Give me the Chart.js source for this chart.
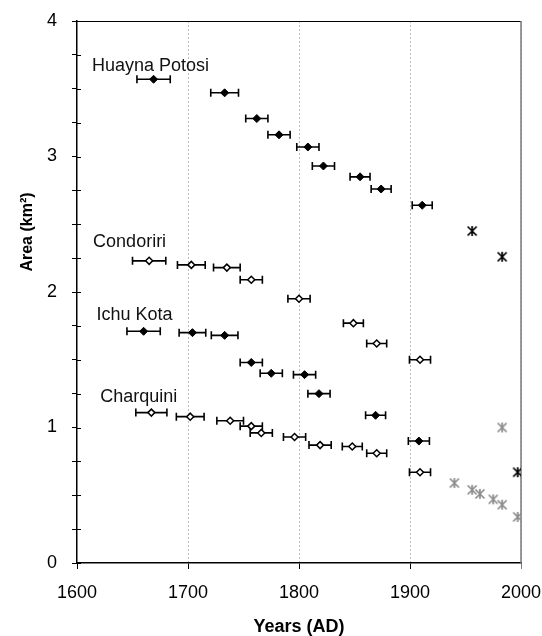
<!DOCTYPE html>
<html>
<head>
<meta charset="utf-8">
<title>Glacier area since 1600</title>
<script src="https://cdn.jsdelivr.net/npm/chart.js@4.4.1/dist/chart.umd.min.js"></script>
<style>
  html, body { margin: 0; padding: 0; background: #fff; }
  #wrap { width: 542px; height: 636px; }
</style>
</head>
<body>
<div id="wrap"><canvas id="areaChart" width="542" height="636"></canvas></div>
<script>
// moraine-dated areas (km2), year +/- dating error
let huaynaYears = [1669, 1733, 1762, 1782, 1808, 1822, 1855, 1874, 1911];
let huaynaArea  = [3.57, 3.47, 3.28, 3.16, 3.07, 2.93, 2.85, 2.76, 2.64];
let huaynaErr   = [15, 12.5, 10, 10, 10, 10, 9, 9, 9];

let condoYears = [1665, 1703, 1735, 1757, 1800, 1849, 1870, 1909];
let condoArea  = [2.23, 2.20, 2.18, 2.09, 1.95, 1.77, 1.62, 1.50];
let condoErr   = [15, 12.5, 12, 10, 10, 9, 9, 9.5];

let ichuYears = [1660, 1704, 1733, 1757, 1775, 1805, 1818, 1869, 1908];
let ichuArea  = [1.71, 1.70, 1.68, 1.48, 1.40, 1.39, 1.25, 1.09, 0.90];
let ichuErr   = [15, 12, 12, 10, 10, 10, 10, 9, 9.5];

let charqYears = [1667, 1702, 1738, 1757, 1766, 1796, 1819, 1848, 1870, 1909];
let charqArea  = [1.11, 1.08, 1.05, 1.01, 0.96, 0.93, 0.87, 0.86, 0.81, 0.67];
let charqErr   = [14, 12.5, 12, 10, 10, 10, 10, 9, 9, 9.5];

// photo / map based areas
let blackStarYears = [1956, 1983, 1997];
let blackStarArea  = [2.45, 2.26, 0.67];
let greyStarYears = [1940, 1956, 1963, 1975, 1983, 1997, 1983];
let greyStarArea  = [0.59, 0.54, 0.51, 0.47, 0.43, 0.34, 1.00];

let glacierNames = ['Huayna Potosi', 'Condoriri', 'Ichu Kota', 'Charquini'];
let nameYears = [1613.5, 1614.5, 1617.5, 1621];
let nameArea  = [3.63, 2.33, 1.79, 1.19];

let yearTicks = [1600, 1700, 1800, 1900, 2000];

const toPoints = (xs, ys) => xs.map((x, i) => ({ x: x, y: ys[i] }));

Chart.defaults.font.family = "'Liberation Sans', Arial, sans-serif";
Chart.defaults.color = '#000';

// six-armed asterisk marker (x plus a vertical stroke)
const asterisk = (color) => {
  let c = document.createElement('canvas');
  c.width = 12; c.height = 12;
  let g = c.getContext('2d');
  g.strokeStyle = color;
  g.lineWidth = 1.7;
  g.beginPath();
  g.moveTo(1.5, 1.5); g.lineTo(10.5, 10.5);
  g.moveTo(10.5, 1.5); g.lineTo(1.5, 10.5);
  g.moveTo(6, 1); g.lineTo(6, 11);
  g.stroke();
  return c;
};

// horizontal error bars, drawn under the markers
const errorBars = {
  id: 'errorBars',
  beforeDatasetsDraw(chart) {
    const ctx = chart.ctx;
    const xs = chart.scales.x, ys = chart.scales.y;
    ctx.save();
    ctx.strokeStyle = '#000';
    ctx.lineWidth = 1.6;
    chart.data.datasets.forEach((ds) => {
      if (!ds.xErr) return;
      ds.data.forEach((p, i) => {
        let x0 = xs.getPixelForValue(p.x - ds.xErr[i]);
        let x1 = xs.getPixelForValue(p.x + ds.xErr[i]);
        let y = ys.getPixelForValue(p.y);
        ctx.beginPath();
        ctx.moveTo(x0, y); ctx.lineTo(x1, y);
        ctx.moveTo(x0, y - 4); ctx.lineTo(x0, y + 4);
        ctx.moveTo(x1, y - 4); ctx.lineTo(x1, y + 4);
        ctx.stroke();
      });
    });
    ctx.restore();
  }
};

// top and right frame, inner half of the y ticks
const frame = {
  id: 'frame',
  beforeDatasetsDraw(chart) {
    const ctx = chart.ctx;
    const a = chart.chartArea;
    ctx.save();
    ctx.strokeStyle = '#000';
    ctx.lineWidth = 1;
    ctx.beginPath();
    ctx.moveTo(a.left, a.top + 0.5); ctx.lineTo(a.right, a.top + 0.5);
    ctx.stroke();
    ctx.strokeStyle = '#7a7a7a';
    ctx.lineWidth = 1.5;
    ctx.beginPath();
    ctx.moveTo(a.right, a.top); ctx.lineTo(a.right, a.bottom);
    ctx.stroke();
    ctx.strokeStyle = '#000';
    ctx.lineWidth = 1;
    chart.scales.y.ticks.forEach((t) => {
      let y = Math.round(chart.scales.y.getPixelForValue(t.value)) + 0.5;
      ctx.beginPath();
      ctx.moveTo(a.left, y); ctx.lineTo(a.left + 4, y);
      ctx.stroke();
    });
    ctx.restore();
  }
};

// glacier names and the y title
const labels = {
  id: 'labels',
  afterDraw(chart) {
    const ctx = chart.ctx;
    const xs = chart.scales.x, ys = chart.scales.y;
    ctx.save();
    ctx.fillStyle = '#111';
    ctx.font = "18px 'Liberation Sans', Arial, sans-serif";
    ctx.textAlign = 'left';
    ctx.textBaseline = 'alphabetic';
    glacierNames.forEach((n, i) => {
      ctx.fillText(n, xs.getPixelForValue(nameYears[i]), ys.getPixelForValue(nameArea[i]));
    });
    ctx.translate(28, 232);
    ctx.rotate(-Math.PI / 2);
    ctx.fillStyle = '#000';
    ctx.font = "bold 16px 'Liberation Sans', Arial, sans-serif";
    ctx.textAlign = 'center';
    ctx.textBaseline = 'middle';
    ctx.fillText('Area (km\u00B2)', 0, 0);
    ctx.restore();
  }
};

const filled = (xs, ys, err) => ({
  data: toPoints(xs, ys), xErr: err,
  pointStyle: 'rectRot', pointRadius: 4,
  backgroundColor: '#000', borderColor: '#000', borderWidth: 1
});
const open = (xs, ys, err) => ({
  data: toPoints(xs, ys), xErr: err,
  pointStyle: 'rectRot', pointRadius: 3.5,
  backgroundColor: '#fff', borderColor: '#000', borderWidth: 1.5
});

new Chart(document.getElementById('areaChart'), {
  type: 'scatter',
  data: {
    datasets: [
      filled(huaynaYears, huaynaArea, huaynaErr),
      open(condoYears, condoArea, condoErr),
      filled(ichuYears, ichuArea, ichuErr),
      open(charqYears, charqArea, charqErr),
      {
        data: toPoints(greyStarYears, greyStarArea),
        pointStyle: asterisk('#8c8c8c'), pointRadius: 6
      },
      {
        data: toPoints(blackStarYears, blackStarArea),
        pointStyle: asterisk('#000'), pointRadius: 6
      }
    ]
  },
  options: {
    responsive: false,
    animation: false,
    devicePixelRatio: 1,
    layout: { padding: { top: 21, right: 21, bottom: 0, left: 0 } },
    plugins: { legend: { display: false }, tooltip: { enabled: false } },
    scales: {
      x: {
        type: 'linear', min: 1600, max: 2000,
        afterBuildTicks: (scale) => { scale.ticks = yearTicks.map((v) => ({ value: v })); },
        afterFit: (scale) => {
          scale.height = 73;
          scale.paddingLeft = 0;
          scale.paddingRight = 0;
        },
        ticks: { padding: 13, font: { size: 18 }, color: '#000', callback: (v) => String(v) },
        grid: {
          color: (c) => c.tick && c.tick.value === 1600 ? 'rgba(0,0,0,0)' : '#bdbdbd',
          lineWidth: 1,
          tickLength: 6,
          tickColor: (c) => c.tick && c.tick.value === 2000 ? '#7a7a7a' : '#000'
        },
        border: { color: '#000', width: 1.5, dash: [2, 2] },
        title: {
          display: true, text: 'Years (AD)', color: '#000',
          font: { size: 18, weight: 'bold', lineHeight: 1 },
          padding: { top: 0, bottom: 0 }
        }
      },
      y: {
        min: 0, max: 4,
        afterFit: (scale) => {
          scale.width = 77;
          scale.paddingTop = 0;
          scale.paddingBottom = 0;
        },
        ticks: {
          stepSize: 0.25, autoSkip: false, padding: 15,
          font: { size: 18 }, color: '#000',
          callback: (v) => Number.isInteger(v) ? String(v) : ''
        },
        grid: { drawOnChartArea: false, tickLength: 5, tickColor: '#000' },
        border: { color: '#000', width: 1.5 }
      }
    }
  },
  plugins: [errorBars, frame, labels]
});
</script>
</body>
</html>
